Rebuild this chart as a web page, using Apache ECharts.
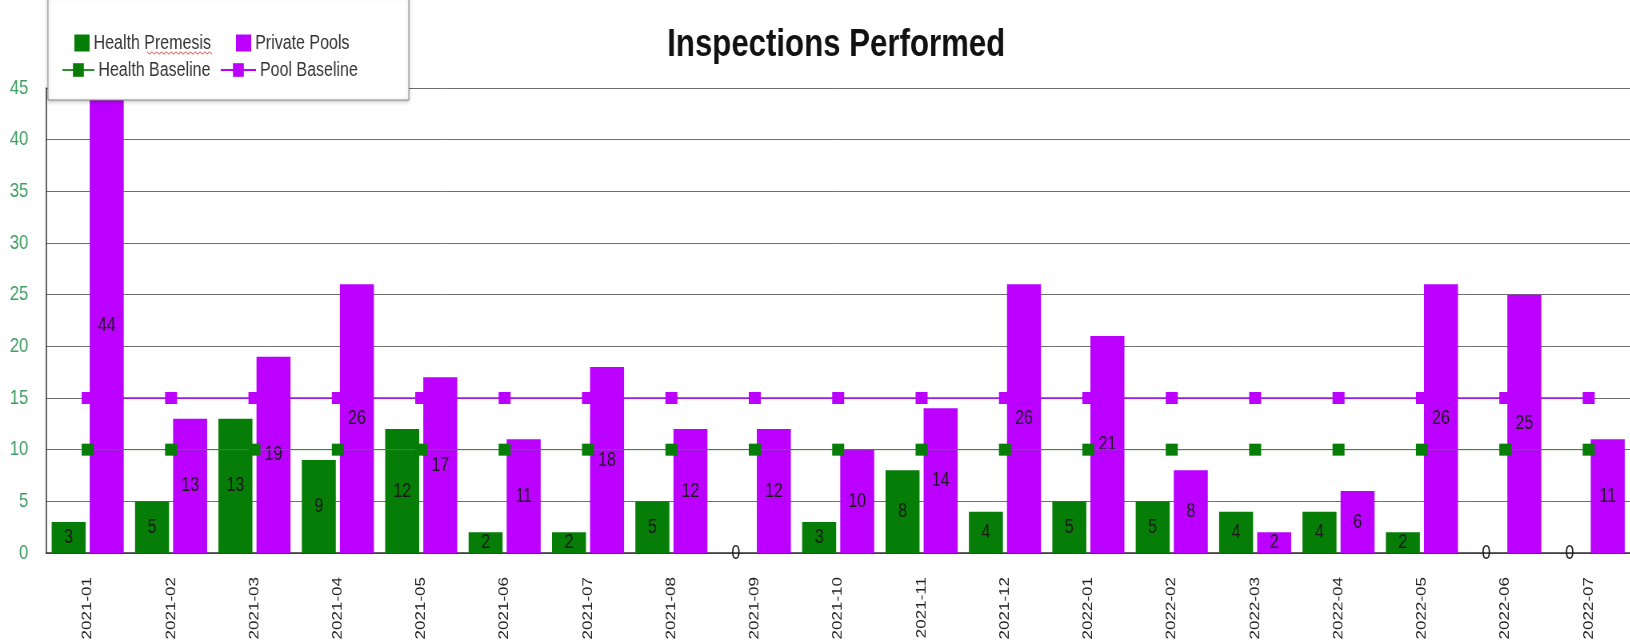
<!DOCTYPE html>
<html>
<head>
<meta charset="utf-8">
<title>Inspections Performed</title>
<script src="https://cdn.jsdelivr.net/npm/echarts@6/dist/echarts.min.js"></script>
<style>
    html, body { margin: 0; padding: 0; background: #fff; overflow: hidden; width: 1630px; height: 644px; }
    /* 原图是横向压缩过的截图, 整体按 0.8 压缩 */
    #inspectChart { width: 2038px; height: 644px; transform: scaleX(0.8); transform-origin: 0 0; }
</style>
</head>
<body>
<div id="inspectChart"></div>
<script>
// 月份
var months = ['2021-01','2021-02','2021-03','2021-04','2021-05','2021-06','2021-07','2021-08','2021-09','2021-10',
    '2021-11','2021-12','2022-01','2022-02','2022-03','2022-04','2022-05','2022-06','2022-07'];
// 每月检查数
var healthPremesis = [3,5,13,9,12,2,2,5,0,3,8,4,5,5,4,4,2,0,0];
var privatePools = [44,13,19,26,17,11,18,12,12,10,14,26,21,8,2,6,26,25,11];
// 基线
var healthBaseline = [10,10,10,10,10,10,10,10,10,10,10,10,10,10,10,10,10,10,10];
var poolBaseline = [15,15,15,15,15,15,15,15,15,15,15,15,15,15,15,15,15,15,15];
// y轴刻度
var yTicks = [0,5,10,15,20,25,30,35,40,45];

var fontName = "'Liberation Sans', Arial, sans-serif";
var greenColor = '#067d06';
var purpleColor = '#bb00ff';

init();

function init(){
    var myChart = echarts.init(document.getElementById('inspectChart'));
    myChart.setOption(buildOption());
}

function legendItem(name, left, top, w, h, icon){
    var item = {
        data: [name],
        left: left,
        top: top,
        itemWidth: w,
        itemHeight: h,
        padding: 0,
        selectedMode: false,
        z: 120,
        textStyle: { fontFamily: fontName, fontSize: 20, color: '#333' }
    };
    if (icon) {
        item.icon = icon;
    }
    return item;
}

// 拼写检查的红色波浪线
function squiggle(x0, x1, y){
    var pts = [];
    var up = true;
    for (var x = x0; x <= x1; x += 3) {
        pts.push([x, up ? y - 1.2 : y + 1.2]);
        up = !up;
    }
    return pts;
}

function buildOption(){
    var option = {
        backgroundColor: '#fff',
        animation: false,
        title: {
            text: 'Inspections Performed',
            left: 829,
            top: 21,
            textStyle: { fontFamily: fontName, fontSize: 39, fontWeight: 'bold', color: '#111' }
        },
        // 图例框
        graphic: [{
            type: 'rect',
            z: 100,
            shape: { x: 60, y: -4, width: 451, height: 104 },
            style: { fill: '#fff', stroke: '#8a8a8a', lineWidth: 1, shadowBlur: 4, shadowColor: 'rgba(0,0,0,0.25)', shadowOffsetY: 1 }
        }, {
            type: 'polyline',
            z: 130,
            shape: { points: squiggle(184, 266, 53) },
            style: { stroke: '#e0443c', lineWidth: 1, fill: null }
        }],
        legend: [
            legendItem('Health Premesis', 93, 33, 19, 17, 'rect'),
            legendItem('Health Baseline', 77, 60, 40, 17),
            legendItem('Private Pools', 295, 33, 19, 17, 'rect'),
            legendItem('Pool Baseline', 275, 60, 44, 17)
        ],
        grid: {
            left: 57.5,
            top: 88,
            right: -8,
            bottom: 91
        },
        xAxis: {
            type: 'category',
            data: months,
            axisTick: { show: false },
            axisLine: { lineStyle: { color: '#333', width: 1.5 } },
            axisLabel: { rotate: 90, margin: 24, fontFamily: fontName, fontSize: 17, color: '#222' }
        },
        yAxis: {
            type: 'value',
            min: yTicks[0],
            max: yTicks[yTicks.length - 1],
            interval: yTicks[1] - yTicks[0],
            axisLine: { show: true, lineStyle: { color: '#333', width: 1.5 } },
            axisTick: { show: false },
            axisLabel: { margin: 22, fontFamily: fontName, fontSize: 21, color: '#3f9e63' },
            splitLine: { lineStyle: { color: '#6f6f6f', width: 1 } }
        },
        series: [
            {
                name: 'Health Premesis',
                type: 'bar',
                data: healthPremesis,
                barWidth: 42.5,
                barGap: '12%',
                itemStyle: { color: greenColor },
                label: { show: true, position: 'inside', fontFamily: fontName, fontSize: 20, color: '#1a1a1a' }
            },
            {
                name: 'Private Pools',
                type: 'bar',
                data: privatePools,
                barWidth: 42.5,
                barGap: '12%',
                itemStyle: { color: purpleColor },
                label: { show: true, position: 'inside', fontFamily: fontName, fontSize: 20, color: '#1a1a1a' }
            },
            {
                name: 'Health Baseline',
                type: 'line',
                data: healthBaseline,
                z: 5,
                symbol: 'rect',
                symbolSize: [15, 12],
                itemStyle: { color: greenColor },
                lineStyle: { color: '#2f8f2f', width: 1 }
            },
            {
                name: 'Pool Baseline',
                type: 'line',
                data: poolBaseline,
                z: 5,
                symbol: 'rect',
                symbolSize: [15, 12],
                itemStyle: { color: purpleColor },
                lineStyle: { color: purpleColor, width: 1.5 }
            }
        ]
    };
    return option;
}
</script>
</body>
</html>
